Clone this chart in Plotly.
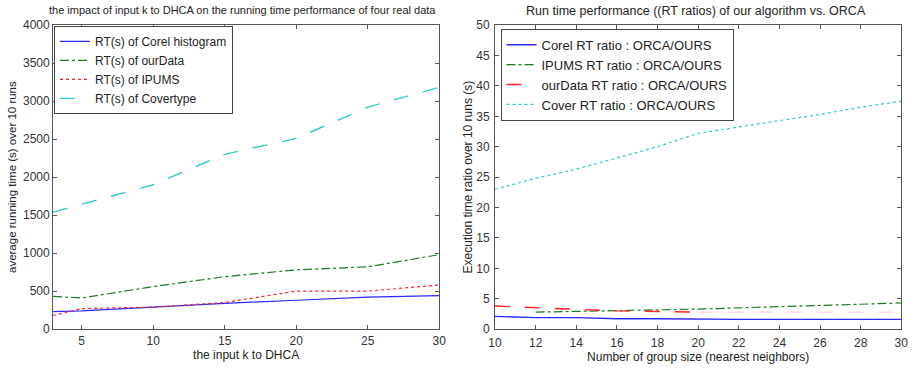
import plotly.graph_objects as go

# ---- left panel data ----
k_values = [3, 5, 10, 15, 20, 25, 30]
rt_corel = [230, 240, 290, 340, 380, 420, 440]
rt_ourdata = [430, 410, 560, 690, 780, 820, 980]
rt_ipums = [180, 270, 290, 350, 500, 500, 580]
rt_covertype = [1540, 1640, 1900, 2300, 2510, 2920, 3180]

# ---- right panel data ----
group_size = [10, 12, 14, 16, 18, 20, 22, 24, 26, 28, 30]
ratio_corel = [2.1, 1.9, 1.9, 1.7, 1.7, 1.6, 1.6, 1.6, 1.6, 1.6, 1.6]
ratio_ipums = [None, 2.8, 2.9, 3.0, 3.1, 3.3, 3.5, 3.7, 3.9, 4.0, 4.3]
ratio_ourdata = [3.8, 3.5, 3.3, 3.0, 2.9, 2.8, None, None, None, None, None]
ratio_ourdata_tail = [None, None, None, None, None, 2.8, 2.8, 2.8, 2.8, 2.8, 2.8]
ratio_cover = [23.0, 24.8, 26.3, 28.2, 30.0, 32.2, 33.3, 34.3, 35.3, 36.5, 37.5]

BLUE = "#2828ff"
GREEN = "#1f7a1f"
RED = "#ff2020"
CYAN = "#30c8c8"
FONT = "Liberation Sans, Arial, sans-serif"

fig = go.Figure()

# left
fig.add_trace(go.Scatter(x=k_values, y=rt_corel, mode="lines", name="RT(s) of Corel histogram",
                         line=dict(color=BLUE, width=1.2, dash="solid"), xaxis="x", yaxis="y", legend="legend"))
fig.add_trace(go.Scatter(x=k_values, y=rt_ourdata, mode="lines", name="RT(s) of ourData",
                         line=dict(color=GREEN, width=1.2, dash="dashdot"), xaxis="x", yaxis="y", legend="legend"))
fig.add_trace(go.Scatter(x=k_values, y=rt_ipums, mode="lines", name="RT(s) of IPUMS",
                         line=dict(color=RED, width=1.2, dash="dot"), xaxis="x", yaxis="y", legend="legend"))
fig.add_trace(go.Scatter(x=k_values, y=rt_covertype, mode="lines", name="RT(s) of Covertype",
                         line=dict(color=CYAN, width=1.4, dash="longdash"), xaxis="x", yaxis="y", legend="legend"))

# right
fig.add_trace(go.Scatter(x=group_size, y=ratio_corel, mode="lines", name="Corel RT ratio : ORCA/OURS",
                         line=dict(color=BLUE, width=1.4, dash="solid"), xaxis="x2", yaxis="y2", legend="legend2"))
fig.add_trace(go.Scatter(x=group_size, y=ratio_ipums, mode="lines", name="IPUMS RT ratio : ORCA/OURS",
                         line=dict(color=GREEN, width=1.2, dash="dashdot"), xaxis="x2", yaxis="y2", legend="legend2"))
fig.add_trace(go.Scatter(x=group_size, y=ratio_ourdata, mode="lines", name="ourData RT ratio : ORCA/OURS",
                         line=dict(color=RED, width=1.4, dash="longdash"), xaxis="x2", yaxis="y2", legend="legend2"))
fig.add_trace(go.Scatter(x=group_size, y=ratio_ourdata_tail, mode="lines", showlegend=False,
                         line=dict(color="rgba(255,120,120,0.45)", width=1, dash="longdash"),
                         xaxis="x2", yaxis="y2"))
fig.add_trace(go.Scatter(x=group_size, y=ratio_cover, mode="lines", name="Cover RT ratio : ORCA/OURS",
                         line=dict(color=CYAN, width=1.2, dash="dot"), xaxis="x2", yaxis="y2", legend="legend2"))

axis_common = dict(showline=True, linecolor="#555", linewidth=1, mirror="allticks", ticks="inside",
                   ticklen=4, tickcolor="#555", showgrid=False, zeroline=False, automargin=False,
                   tickfont=dict(family=FONT, size=12, color="#333"))

fig.update_layout(
    width=915, height=369,
    margin=dict(l=0, r=0, t=0, b=0),
    paper_bgcolor="white", plot_bgcolor="white",
    font=dict(family=FONT, size=11, color="#222"),
    xaxis=dict(domain=[0.058, 0.480], range=[3, 30], tickvals=[5, 10, 15, 20, 25, 30], anchor="y",
               title=dict(text="the input k to DHCA", font=dict(size=12), standoff=0), **axis_common),
    yaxis=dict(domain=[0.108, 0.932], range=[0, 4000], dtick=500, anchor="x",
               title=dict(text="average running time (s) over 10 runs", font=dict(size=11.5), standoff=3),
               **axis_common),
    xaxis2=dict(domain=[0.541, 0.985], range=[10, 30], dtick=2, anchor="y2", ticklabelstandoff=2,
                title=dict(text="Number of group size (nearest neighbors)", font=dict(size=12), standoff=1),
                **axis_common),
    yaxis2=dict(domain=[0.108, 0.932], range=[0, 50], dtick=5, anchor="x2", ticklabelstandoff=2,
                title=dict(text="Execution time ratio over 10 runs (s)", font=dict(size=12), standoff=1),
                **axis_common),
    legend=dict(x=0.059, y=0.930, xanchor="left", yanchor="top", bgcolor="white",
                bordercolor="#444", borderwidth=1, font=dict(family=FONT, size=12, color="#222"),
                tracegroupgap=0, itemwidth=30),
    legend2=dict(x=0.547, y=0.922, xanchor="left", yanchor="top", bgcolor="white",
                 bordercolor="#444", borderwidth=1, font=dict(family=FONT, size=13, color="#222"),
                 tracegroupgap=0, itemwidth=30),
    annotations=[
        dict(text="the impact of input k to DHCA on the running time performance of four real data",
             x=0.265, y=0.995, xref="paper", yref="paper", xanchor="center", yanchor="top",
             showarrow=False, font=dict(family=FONT, size=11, color="#222")),
        dict(text="Run time performance ((RT ratios) of our algorithm vs. ORCA",
             x=0.761, y=0.995, xref="paper", yref="paper", xanchor="center", yanchor="top",
             showarrow=False, font=dict(family=FONT, size=12.5, color="#222")),
    ],
)

fig.write_html("out.html")
